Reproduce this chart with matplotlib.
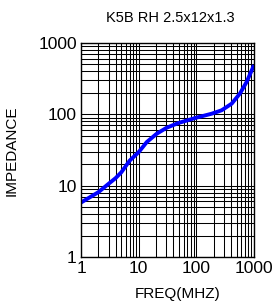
import matplotlib
matplotlib.use("Agg")
import matplotlib.pyplot as plt
from matplotlib.ticker import FixedLocator, NullFormatter

plt.rcParams['font.family'] = ['Liberation Sans', 'DejaVu Sans']

title = "K5B RH 2.5x12x1.3"
xlabel = "FREQ(MHZ)"
ylabel = "IMPEDANCE"
freq = [1, 2, 3, 4, 5, 7, 10, 13.8, 20.5, 30.6, 48.7, 100, 184, 275, 410, 571, 746, 1000]
imp = [5.8, 8.1, 10.6, 12.8, 15.4, 22.5, 29.5, 40.8, 53.4, 64.9, 75.5, 89.8, 102, 114, 141, 196, 285, 490]
ticks = [1, 10, 100, 1000]
tick_labels = ["1", "10", "100", "1000"]

W, H = 274, 307
fig = plt.figure(figsize=(W / 100, H / 100), dpi=100)
ax = fig.add_axes([81 / W, 1 - 257 / H, 173 / W, 214 / H])
ax.set_xscale('log')
ax.set_yscale('log')
ax.set_xlim(1, 1000)
ax.set_ylim(1, 1000)

minor = [m * 10**e for e in range(0, 3) for m in range(2, 10)]
ax.xaxis.set_major_locator(FixedLocator(ticks))
ax.yaxis.set_major_locator(FixedLocator(ticks))
ax.xaxis.set_minor_locator(FixedLocator(minor))
ax.yaxis.set_minor_locator(FixedLocator(minor))
ax.xaxis.set_minor_formatter(NullFormatter())
ax.yaxis.set_minor_formatter(NullFormatter())
ax.set_xticklabels(tick_labels)
ax.set_yticklabels(tick_labels)
ax.grid(True, which='both', color='black', linewidth=0.75)
ax.tick_params(which='both', length=0, labelsize=12.5, pad=3)
for s in ax.spines.values():
    s.set_linewidth(1.0)

ax.plot(freq, imp, color='#0000ff', linewidth=2.8, solid_capstyle='butt',
        solid_joinstyle='round')

fig.text(170 / W, 1 - 18 / H, title, fontsize=10.5, ha='center', va='center')
fig.text(178 / W, 1 - 294 / H, xlabel, fontsize=11, ha='center', va='center')
fig.text(12 / W, 1 - 151 / H, ylabel, fontsize=11, ha='center', va='center',
         rotation=90)

fig.savefig("out.png", dpi=100)
